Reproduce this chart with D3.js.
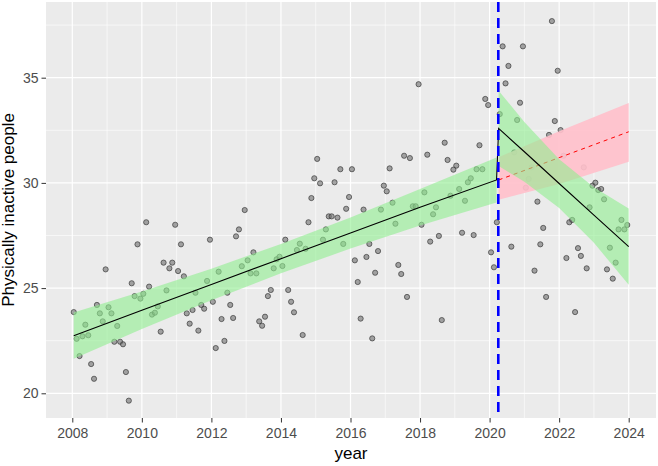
<!DOCTYPE html>
<html><head><meta charset="utf-8">
<script src="https://cdn.jsdelivr.net/npm/d3@7"></script>
<style>body{margin:0;background:#fff}svg{display:block}</style>
</head><body><svg id="c" width="658" height="466"></svg>
<script>
// Monthly observations (Jan..Dec) per year
const startYear = 2008;
const v2008 = [23.86, 22.59, 21.77, 22.71, 23.26, 22.76, 21.39, 20.69, 24.2, 23.8, 23.42, 25.89];
const v2009 = [24.09, 23.8, 22.45, 23.2, 22.45, 22.33, 21.01, 19.65, 25.23, 24.62, 27.08, 24.5];
const v2010 = [24.73, 28.13, 25.07, 23.74, 23.83, 24.13, 22.93, 26.21, 24.89, 25.94, 26.21, 28.01];
const v2011 = [25.81, 27.08, 25.56, 23.8, 23.31, 23.96, 24.78, 22.98, 24.2, 24.02, 25.34, 27.3];
const v2012 = [24.35, 22.15, 25.78, 23.53, 22.49, 24.78, 24.2, 23.58, 27.46, 27.79, 26.04, 28.71];
const v2013 = [26.32, 25.7, 26.7, 25.7, 23.42, 23.21, 23.64, 24.62, 24.91, 25.94, 26.37, 26.49];
const v2014 = [26.05, 27.3, 24.91, 24.35, 23.85, 26.81, 27.11, 22.77, 26.87, 28.13, 29.28, 30.22];
const v2015 = [31.14, 29.98, 27.3, 27.79, 28.41, 28.41, 30.03, 28.35, 30.65, 27.1, 28.77, 29.33];
const v2016 = [30.65, 26.32, 25.29, 23.55, 28.73, 26.48, 27.1, 22.61, 25.73, 26.76, 28.73, 29.87];
const v2017 = [29.6, 30.69, 29.06, 28.06, 26.1, 25.67, 31.29, 24.58, 31.18, 28.89, 28.89, 34.69];
const v2018 = [28.01, 29.55, 31.34, 27.21, 28.51, 28.84, 27.48, 23.48, 31.91, 31.09, 29.39, 30.63];
const v2019 = [30.82, 29.71, 27.63, 29.15, 30.03, 30.22, 27.52, 30.65, 31.79, 30.65, 33.99, 33.7];
const v2020 = [26.7, 25.99, 28.13, 33.27, 36.49, 34.73, 35.56, 26.97, 31.45, 32.99, 33.81, 36.49];
const v2021 = [29.77, 30.19, 30.74, 25.83, 29.11, 27.08, 27.86, 24.58, 32.28, 37.69, 32.94, 35.33];
const v2022 = [32.51, 31.29, 26.43, 28.13, 28.24, 23.86, 26.9, 26.53, 30.74, 25.94, 28.84, 29.87];
const v2023 = [30.01, 29.66, 29.71, 29.22, 25.89, 26.92, 25.45, 26.21, 27.79, 28.24, 27.79, 28.0];
const yearly = [v2008, v2009, v2010, v2011, v2012, v2013, v2014, v2015, v2016, v2017, v2018, v2019, v2020, v2021, v2022, v2023];

// Fitted segmented regression (knots) and confidence bands
const preYear = [2008.04, 2010, 2012, 2014, 2016, 2018, 2020.2];
const preFit  = [22.74, 23.95, 25.17, 26.40, 27.62, 28.84, 30.14];
const preLo   = [21.64, 23.06, 24.42, 25.70, 26.88, 27.97, 29.07];
const preHi   = [23.84, 24.84, 25.92, 27.10, 28.36, 29.71, 31.21];
const postYear = [2020.26, 2021, 2022, 2023, 2024];
const postFit  = [32.59, 31.48, 29.97, 28.47, 26.97];
const postLo   = [30.80, 30.06, 28.81, 27.15, 25.16];
const postHi   = [34.38, 32.90, 31.13, 29.79, 28.78];
const cfYear = [2020.26, 2022, 2024];
const cfFit  = [30.14, 31.20, 32.43];
const cfLo   = [29.20, 29.95, 31.00];
const cfHi   = [31.22, 32.45, 33.80];
const interventionYear = 2020.25;

const xTicks = [2008, 2010, 2012, 2014, 2016, 2018, 2020, 2022, 2024];
const xMinor = [2009, 2011, 2013, 2015, 2017, 2019, 2021, 2023];
const yTicks = [20, 25, 30, 35];
const yMinor = [22.5, 27.5, 32.5, 37.5];

const P = {l: 46, r: 656, t: 2, b: 418};
const x = d3.scaleLinear().domain([2008, 2024]).range([72.3, 628.7]);
const y = d3.scaleLinear().domain([20, 35]).range([393.3, 77.7]);

const svg = d3.select('#c');
const font = "'Liberation Sans', Arial, sans-serif";

svg.append('defs').append('clipPath').attr('id', 'clip')
  .append('rect').attr('x', P.l).attr('y', P.t).attr('width', P.r - P.l).attr('height', P.b - P.t);

svg.append('rect').attr('x', P.l).attr('y', P.t).attr('width', P.r - P.l).attr('height', P.b - P.t).attr('fill', '#EBEBEB');

const g = svg.append('g').attr('clip-path', 'url(#clip)');
// grid
g.selectAll('.ymin').data(yMinor).enter().append('line')
  .attr('x1', P.l).attr('x2', P.r).attr('y1', d => y(d)).attr('y2', d => y(d))
  .attr('stroke', '#fff').attr('stroke-width', 0.6);
g.selectAll('.xmin').data(xMinor).enter().append('line')
  .attr('y1', P.t).attr('y2', P.b).attr('x1', d => x(d)).attr('x2', d => x(d))
  .attr('stroke', '#fff').attr('stroke-width', 0.6);
g.selectAll('.ymaj').data(yTicks).enter().append('line')
  .attr('x1', P.l).attr('x2', P.r).attr('y1', d => y(d)).attr('y2', d => y(d))
  .attr('stroke', '#fff').attr('stroke-width', 1.2);
g.selectAll('.xmaj').data(xTicks).enter().append('line')
  .attr('y1', P.t).attr('y2', P.b).attr('x1', d => x(d)).attr('x2', d => x(d))
  .attr('stroke', '#fff').attr('stroke-width', 1.2);

// points
const pts = [];
yearly.forEach((arr, yi) => arr.forEach((v, m) => pts.push({t: startYear + yi + (m + 0.5) / 12, v})));
g.selectAll('circle.pt').data(pts).enter().append('circle')
  .attr('cx', d => x(d.t)).attr('cy', d => y(d.v)).attr('r', 2.6)
  .attr('fill', 'rgba(110,110,110,0.6)').attr('stroke', 'rgba(50,50,50,0.65)').attr('stroke-width', 1);

const zip = (ts, a, b, c) => ts.map((t, i) => ({t, f: a[i], lo: b[i], hi: c[i]}));
const area = d3.area().x(d => x(d.t)).y0(d => y(d.lo)).y1(d => y(d.hi));
const line = d3.line().x(d => x(d.t)).y(d => y(d.f));

const pre = zip(preYear, preFit, preLo, preHi);
const post = zip(postYear, postFit, postLo, postHi);
const cf = zip(cfYear, cfFit, cfLo, cfHi);

g.append('path').datum(cf).attr('d', area).attr('fill', '#FFC0CB').attr('opacity', 0.92);
g.append('path').datum(cf).attr('d', line).attr('fill', 'none').attr('stroke', '#FF0000')
  .attr('stroke-width', 1).attr('stroke-dasharray', '4,4');
g.append('path').datum(pre).attr('d', area).attr('fill', '#90EE90').attr('opacity', 0.6);
g.append('path').datum(post).attr('d', area).attr('fill', '#90EE90').attr('opacity', 0.6);
g.append('path').datum(pre.concat(post)).attr('d', line).attr('fill', 'none')
  .attr('stroke', '#000').attr('stroke-width', 1.1);

g.append('line').attr('x1', x(interventionYear)).attr('x2', x(interventionYear))
  .attr('y1', P.t).attr('y2', P.b).attr('stroke', '#0000FF').attr('stroke-width', 2.6)
  .attr('stroke-dasharray', '10,6');

// axes
const xa = svg.append('g').attr('transform', `translate(0,${P.b})`)
  .call(d3.axisBottom(x).tickValues(xTicks).tickFormat(d3.format('d')).tickSize(4.5).tickPadding(6));
const ya = svg.append('g').attr('transform', `translate(${P.l},0)`)
  .call(d3.axisLeft(y).tickValues(yTicks).tickSize(4.5).tickPadding(3));
[xa, ya].forEach(a => {
  a.select('.domain').remove();
  a.selectAll('.tick line').attr('stroke', '#333').attr('stroke-width', 1);
  a.selectAll('.tick text').attr('fill', '#4D4D4D').style('font-family', font).style('font-size', '14px');
});

svg.append('text').attr('x', (P.l + P.r) / 2).attr('y', 459).attr('text-anchor', 'middle')
  .style('font-family', font).style('font-size', '17px').attr('fill', '#000').text('year');
svg.append('text').attr('transform', `translate(14,${(P.t + P.b) / 2}) rotate(-90)`).attr('text-anchor', 'middle')
  .style('font-family', font).style('font-size', '17px').attr('fill', '#000').text('Physically inactive people');
</script></body></html>
